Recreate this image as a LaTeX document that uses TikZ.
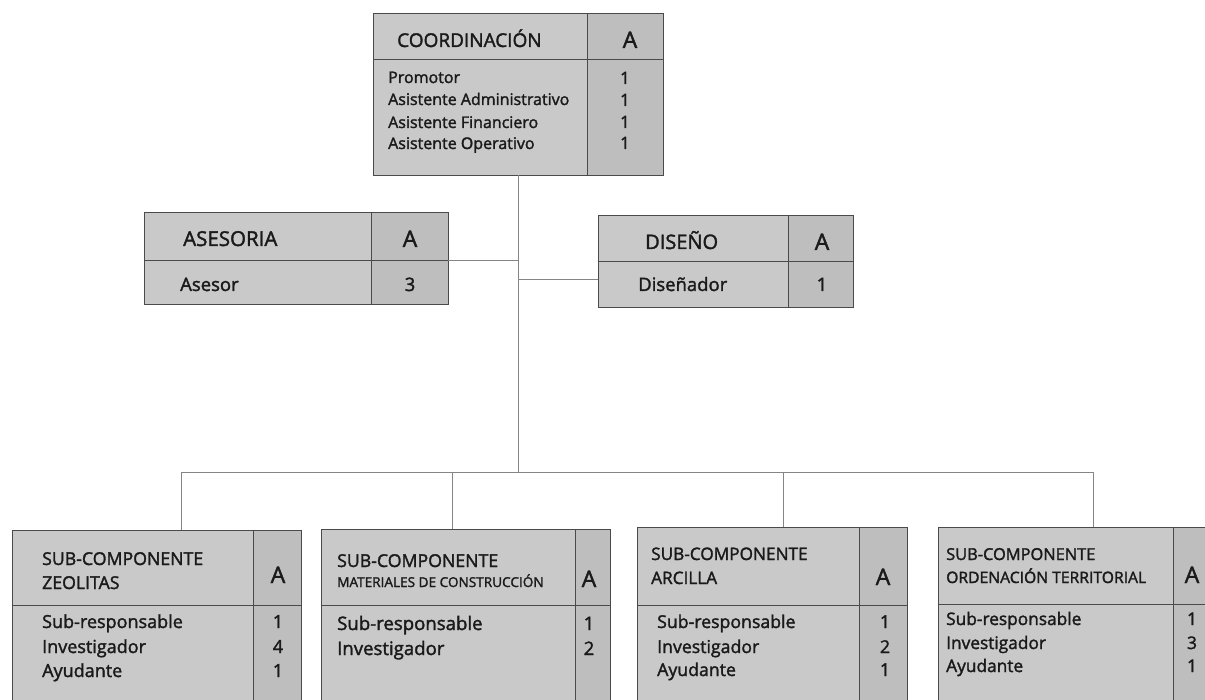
\documentclass[tikz,border=0pt]{standalone}
\usepackage{fontspec}
\setmainfont{Open Sans}[FakeBold=1.8]
\usetikzlibrary{calc}
\definecolor{boxfill}{HTML}{C9C9C9}
\definecolor{colfill}{HTML}{BEBEBE}
\definecolor{edge}{HTML}{4A4A4A}
\definecolor{wire}{HTML}{858585}
\definecolor{ink}{HTML}{1A1A1A}
\tikzset{
  box/.style={fill=boxfill, inner sep=0pt, anchor=north west},
  rule/.style={draw=edge, line width=1pt},
  wire/.style={draw=wire, line width=1pt},
  txt/.style={anchor=base west, inner sep=0pt, text=ink, font=\fontsize{#1}{#1}\selectfont},
  num/.style={anchor=base, inner sep=0pt, text=ink, font=\fontsize{#1}{#1}\selectfont},
}
% #1 name, #2-#5 corners, #6 x of the column rule, #7 y of the header rule
\newcommand\orgframe[7]{%
  \node[box, minimum width={(#4-#2)*1pt}, minimum height={(#5-#3)*1pt}] (#1) at (#2,#3) {};
  \fill[colfill] (#6,#3) rectangle (#4,#5);
  \draw[rule] (#6,#3) -- (#6,#5);
  \draw[rule] (#2,#7) -- (#4,#7);
  \draw[rule] (#1.north west) rectangle (#1.south east);
}
\begin{document}
\begin{tikzpicture}[x=1pt,y=-1pt]
\clip (0,0) rectangle (1205,700);
\fill[white] (0,0) rectangle (1205,700);

% ---- junction points ----
\coordinate (trunk) at (518,472);
\coordinate (jA) at (518,261);
\coordinate (jD) at (518,280);
\coordinate (b1) at (181,472);
\coordinate (b2) at (452,472);
\coordinate (b3) at (783,472);
\coordinate (b4) at (1093,472);

% ---- boxes ----
\orgframe{coord}{373}{14}{663}{175}{587}{60}
\orgframe{ases}{144}{213}{448}{304}{371}{261}
\orgframe{dis}{598}{216}{853}{307}{788}{262}
\orgframe{zeo}{12}{530}{301}{730}{253}{605}
\orgframe{mat}{321}{529}{610}{730}{575}{605}
\orgframe{arc}{637}{527}{907}{730}{859}{605}
\orgframe{ord}{938}{527}{1240}{730}{1173}{604}

% ---- connectors ----
\draw[wire] (coord.south) -- (coord.south |- trunk);
\draw[wire] (ases.east |- jA) -- (jA);
\draw[wire] (jD) -- (dis.west |- jD);
\draw[wire] (b1) -- (b4);
\draw[wire] (b1) -- (b1 |- zeo.north);
\draw[wire] (b2) -- (b2 |- mat.north);
\draw[wire] (b3) -- (b3 |- arc.north);
\draw[wire] (b4) -- (b4 |- ord.north);

% ---- COORDINACIÓN ----
\node[txt=19] (c0) at (397,47) {COORDINACIÓN};
\node[num=23] (ca) at (630,48) {A};
\node[txt=16] (c1) at (388,83) {Promotor};
\node[txt=16] (c2) at (388,105) {Asistente Administrativo};
\node[txt=16] (c3) at (388,128) {Asistente Financiero};
\node[txt=16] (c4) at (388,149) {Asistente Operativo};
\node[num=17] (cn1) at (625,84) {1};
\node[num=17] (cn2) at (625,106) {1};
\node[num=17] (cn3) at (625,128) {1};
\node[num=17] (cn4) at (625,149) {1};

% ---- ASESORIA ----
\node[txt=20.5] (a0) at (183,246) {ASESORIA};
\node[num=23] (aa) at (410,247) {A};
\node[txt=18.5] (a1) at (180,291) {Asesor};
\node[num=18.5] (an1) at (410,291) {3};

% ---- DISEÑO ----
\node[txt=20] (d0) at (645,249) {DISEÑO};
\node[num=23] (da) at (822,250) {A};
\node[txt=18.5] (d1) at (638,291) {Diseñador};
\node[num=18.5] (dn1) at (822,291) {1};

% ---- ZEOLITAS ----
\node[txt=17.7] (z0) at (42,565) {SUB-COMPONENTE};
\node[txt=17.7] (z00) at (42,589) {ZEOLITAS};
\node[num=23] (za) at (278,583) {A};
\node[txt=18] (z1) at (42,628) {Sub-responsable};
\node[txt=18] (z2) at (42,653) {Investigador};
\node[txt=18] (z3) at (42,677) {Ayudante};
\node[num=18] (zn1) at (278,628) {1};
\node[num=18] (zn2) at (278,653) {4};
\node[num=18] (zn3) at (278,677) {1};

% ---- MATERIALES DE CONSTRUCCIÓN ----
\node[txt=17.7] (m0) at (337,567) {SUB-COMPONENTE};
\node[txt=13.6] (m00) at (337,587) {MATERIALES DE CONSTRUCCIÓN};
\node[num=23] (ma) at (589,587) {A};
\node[txt=18.6] (m1) at (337,630) {Sub-responsable};
\node[txt=18.6] (m2) at (337,655) {Investigador};
\node[num=18.6] (mn1) at (589,630) {1};
\node[num=18.6] (mn2) at (589,655) {2};

% ---- ARCILLA ----
\node[txt=17.2] (r0) at (651,560) {SUB-COMPONENTE};
\node[txt=17.2] (r00) at (651,584) {ARCILLA};
\node[num=23] (ra) at (883,585) {A};
\node[txt=17.7] (r1) at (657,628) {Sub-responsable};
\node[txt=17.7] (r2) at (657,653) {Investigador};
\node[txt=17.7] (r3) at (657,676) {Ayudante};
\node[num=17.7] (rn1) at (885,628) {1};
\node[num=17.7] (rn2) at (885,653) {2};
\node[num=17.7] (rn3) at (885,676) {1};

% ---- ORDENACIÓN TERRITORIAL ----
\node[txt=16.4] (o0) at (946,560) {SUB-COMPONENTE};
\node[txt=15.7] (o00) at (946,583) {ORDENACIÓN TERRITORIAL};
\node[num=23] (oa) at (1192,583) {A};
\node[txt=17.3] (o1) at (946,625) {Sub-responsable};
\node[txt=17.3] (o2) at (946,649) {Investigador};
\node[txt=17.3] (o3) at (946,672) {Ayudante};
\node[num=17.3] (on1) at (1192,625) {1};
\node[num=17.3] (on2) at (1192,649) {3};
\node[num=17.3] (on3) at (1192,672) {1};
\end{tikzpicture}
\end{document}
